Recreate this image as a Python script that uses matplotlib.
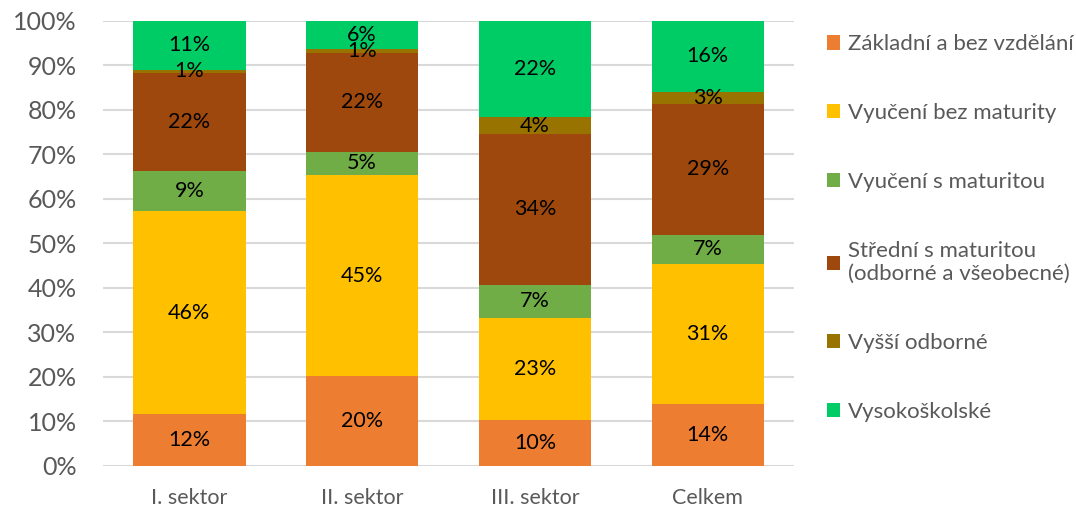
import numpy as np
import matplotlib
matplotlib.use("Agg")
import matplotlib.pyplot as plt
from matplotlib.ticker import PercentFormatter

plt.rcParams['font.family'] = ['Lato', 'DejaVu Sans']

# data (share in %)
sectors = ["I. sektor", "II. sektor", "III. sektor", "Celkem"]
levels = [
    "Základní a bez vzdělání",
    "Vyučení bez maturity",
    "Vyučení s maturitou",
    "Střední s maturitou\n(odborné a všeobecné)",
    "Vyšší odborné",
    "Vysokoškolské",
]
zakladni = [11.6, 20.2, 10.3, 13.9]
vyuceni_bez = [45.6, 45.2, 23.0, 31.4]
vyuceni_s = [9.0, 5.2, 7.4, 6.7]
stredni = [22.1, 22.2, 33.9, 29.4]
vyssi = [0.7, 1.0, 3.8, 2.7]
vysoke = [11.0, 6.2, 21.6, 15.9]

colors = ["#ED7D31", "#FFC000", "#70AD47", "#9E480E", "#997300", "#00CC66"]

series = [zakladni, vyuceni_bez, vyuceni_s, stredni, vyssi, vysoke]

fig = plt.figure(figsize=(10.76, 5.08), dpi=100)
ax = fig.add_axes([0.0957, 0.0827, 0.6423, 0.876])

x = np.arange(len(sectors))
bottom = np.zeros(len(sectors))
for vals, col, lab in zip(series, colors, levels):
    v = np.array(vals) / 100.0
    bars = ax.bar(x, v, 0.65, bottom=bottom, color=col, label=lab,
                  edgecolor="none", zorder=2)
    ax.bar_label(bars, labels=[f"{round(val):d}%" for val in vals],
                 label_type="center", fontsize=15.5, color="black")
    bottom += v

ax.set_xlim(-0.5, len(sectors) - 0.5)
ax.set_ylim(0, 1)
ax.set_yticks(np.arange(0, 1.01, 0.1))
ax.yaxis.set_major_formatter(PercentFormatter(1.0, decimals=0))
ax.set_xticks(x)
ax.set_xticklabels(sectors)
ax.tick_params(axis="y", length=0, labelsize=18, colors="#595959", pad=19)
ax.tick_params(axis="x", length=0, labelsize=15.5, colors="#595959", pad=16)
ax.grid(axis="y", color="#D9D9D9", linewidth=1.5, zorder=0)
for s in ax.spines.values():
    s.set_visible(False)

leg = ax.legend(loc="upper left", bbox_to_anchor=(1.035, 0.99),
                frameon=False, fontsize=16, labelcolor="#595959",
                handlelength=0.6, handleheight=0.6, handletextpad=0.35,
                labelspacing=2.2, borderaxespad=0)

fig.savefig("out.png", dpi=100)
